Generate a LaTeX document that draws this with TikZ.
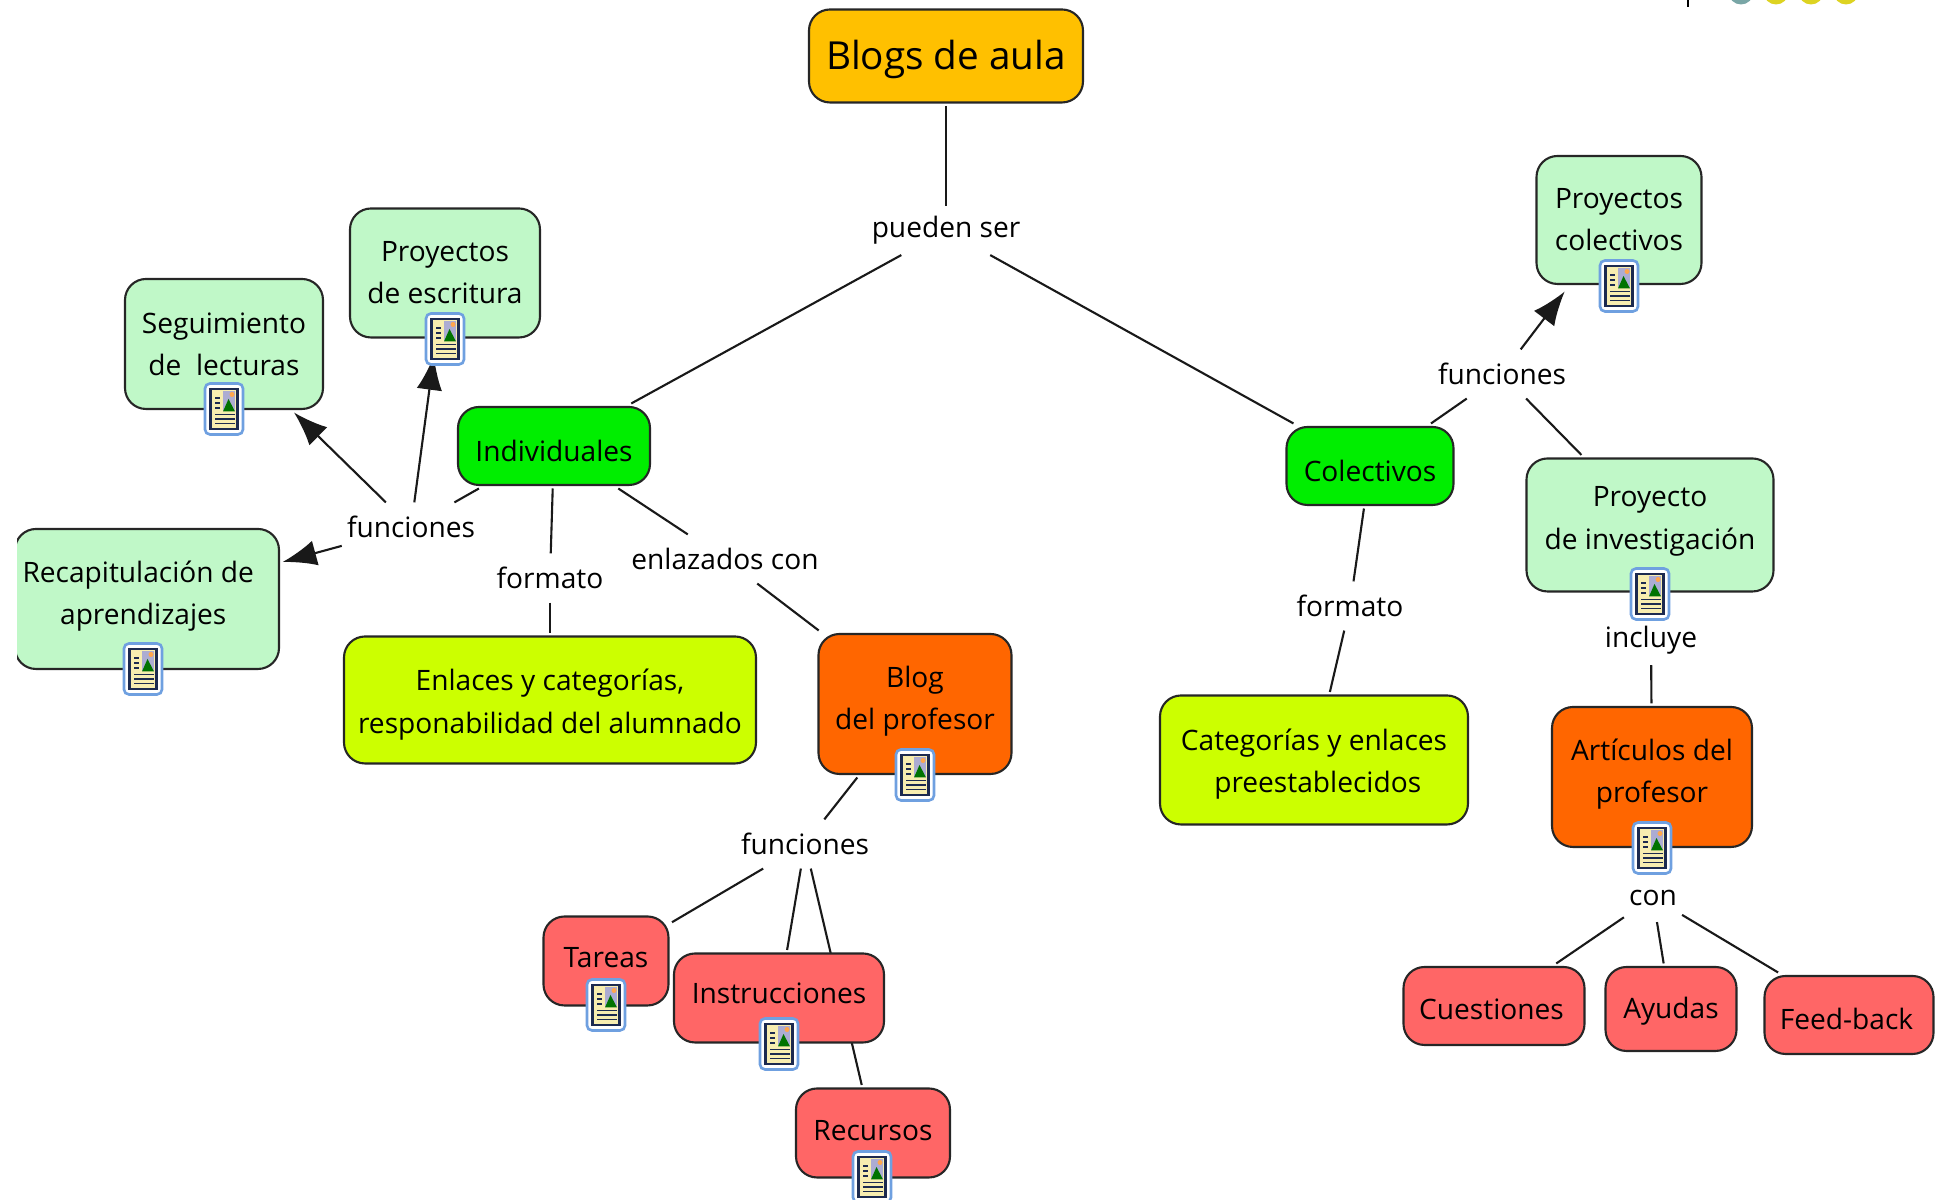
\documentclass[tikz,border=0pt]{standalone}
\usepackage{fontspec}
\setmainfont{Open Sans}
\usetikzlibrary{arrows.meta,backgrounds}

\definecolor{goldbox}{HTML}{FFC000}
\definecolor{greenbox}{HTML}{00EE00}
\definecolor{palebox}{HTML}{C0F8C8}
\definecolor{limebox}{HTML}{CCFF00}
\definecolor{orangebox}{HTML}{FF6600}
\definecolor{redbox}{HTML}{FF6666}
\definecolor{iconblue}{HTML}{6FA0E0}
\definecolor{iconnavy}{HTML}{1C2A50}
\definecolor{iconpage}{HTML}{F7EDB0}

\tikzset{
  mapbox/.style={draw=black!85, line width=1.2pt, rounded corners=0.42cm, outer sep=2pt, align=center,
    font=\fontsize{16}{24}\selectfont},
  textdown/.style={execute at begin node={\rule{0pt}{#1}}},
  textup/.style={execute at end node={\rule[-#1]{0pt}{0pt}}},
  linkword/.style={minimum height=28pt, inner xsep=3pt, inner ysep=0pt, outer sep=0pt,
    font=\fontsize{16}{24}\selectfont},
  maplink/.style={draw=black!90, line width=1.2pt},
  maparrow/.style={maplink, -{Latex[scale=2.3]}},
  iconframe/.style={draw=iconblue, fill=white, line width=1.5pt, rounded corners=0.1cm,
    minimum width=0.76cm, minimum height=1.02cm, inner sep=0pt}
}

\begin{document}
\begin{tikzpicture}
    \useasboundingbox (0,0) rectangle (38.78,24);

    % top edge
    \begin{scope}
        \clip (33,23.5) rectangle (38.78,24);
        \draw[line width=1.2pt] (33.76,24) -- (33.76,23.85);
        \fill[teal!50!gray!70] (34.82,24.16) circle (0.25);
        \fill[yellow!85!black] (35.52,24.16) circle (0.25);
        \fill[yellow!85!black] (36.22,24.16) circle (0.25);
        \fill[yellow!85!black] (36.92,24.16) circle (0.25);
    \end{scope}

    \node[mapbox, fill=goldbox, minimum width=5.48cm, minimum height=1.86cm, textdown=21pt, font=\fontsize{22}{28}\selectfont] (blogs) at (18.92,22.88) {Blogs de aula};

    \node[mapbox, fill=palebox, minimum width=3.80cm, minimum height=2.58cm] (escritura) at (8.90,18.54) {Proyectos\\de escritura};
    \node[mapbox, fill=palebox, minimum width=3.96cm, minimum height=2.60cm] (lecturas) at (4.48,17.12) {Seguimiento\\de\ \ lecturas};
    \node[mapbox, fill=palebox, minimum width=5.28cm, minimum height=2.80cm, textup=7pt] (recap) at (2.94,12.02) {Recapitulación de\hspace*{0.35cm}\\aprendizajes\hspace*{0.15cm}};
    \node[mapbox, fill=greenbox, minimum width=3.84cm, minimum height=1.56cm, textdown=17.5pt] (indiv) at (11.08,15.08) {Individuales};
    \node[mapbox, fill=limebox, minimum width=8.24cm, minimum height=2.54cm] (enlaces) at (11.00,10.00) {\rule{0pt}{17.5pt}Enlaces y categorías,\\responabilidad del alumnado};
    \node[mapbox, fill=orangebox, minimum width=3.86cm, minimum height=2.80cm, textup=7pt] (blogprof) at (18.30,9.92) {Blog\\del profesor};
    \node[mapbox, fill=greenbox, minimum width=3.34cm, minimum height=1.56cm, textdown=17.5pt] (colect) at (27.40,14.68) {Colectivos};
    \node[mapbox, fill=limebox, minimum width=6.16cm, minimum height=2.58cm] (categ) at (26.28,8.80) {\rule{0pt}{16.5pt}Categorías y enlaces\\\hspace*{0.15cm}preestablecidos};
    \node[mapbox, fill=palebox, minimum width=3.30cm, minimum height=2.56cm] (proycol) at (32.38,19.60) {Proyectos\\colectivos};
    \node[mapbox, fill=palebox, minimum width=4.94cm, minimum height=2.66cm, textup=8pt] (invest) at (33.00,13.50) {Proyecto\\de investigación};
    \node[mapbox, fill=orangebox, minimum width=4.00cm, minimum height=2.80cm, textup=7pt] (artic) at (33.04,8.46) {Artículos del\\profesor};
    \node[mapbox, fill=redbox, minimum width=2.50cm, minimum height=1.78cm, textup=4pt] (tareas) at (12.12,4.78) {Tareas};
    \node[mapbox, fill=redbox, minimum width=4.20cm, minimum height=1.78cm, textup=6pt] (instruc) at (15.58,4.04) {Instrucciones};
    \node[mapbox, fill=redbox, minimum width=3.08cm, minimum height=1.78cm, textup=3pt] (recursos) at (17.46,1.34) {Recursos};
    \node[mapbox, fill=redbox, minimum width=3.62cm, minimum height=1.56cm, textdown=15pt] (cuest) at (29.88,3.88) {Cuestiones\hspace{0.1cm}};
    \node[mapbox, fill=redbox, minimum width=2.62cm, minimum height=1.68cm, textdown=15pt] (ayudas) at (33.42,3.82) {Ayudas};
    \node[mapbox, fill=redbox, minimum width=3.38cm, minimum height=1.56cm, textdown=16.5pt] (feed) at (36.98,3.70) {Feed-back\hspace{0.1cm}};

    % left edge of the picture cuts this box
    \fill[white] (0,10) rectangle (0.33,14);

    \node[linkword] (pueden) at (18.92,19.39) {pueden ser};
    \node[linkword] (funind) at (8.22,13.46) {funciones};
    \node[linkword] (forind) at (11.00,12.44) {formato};
    \node[linkword] (enlaz) at (14.50,12.82) {enlazados con};
    \node[linkword] (funprof) at (16.10,7.12) {funciones};
    \node[linkword] (funcol) at (30.04,16.52) {funciones};
    \node[linkword] (forcol) at (27.00,11.88) {formato};
    \node[linkword] (incluye) at (33.02,11.19) {incluye};
    \node[linkword] (con) at (33.06,6.05) {con};

    % resource icons
    \foreach \iname/\ipos in {iesc/{8.90,17.22}, ilec/{4.48,15.82}, irec/{2.86,10.62}, iprof/{18.30,8.50},
        icol/{32.38,18.28}, iinv/{33.00,12.12}, iart/{33.04,7.04}, itar/{12.12,3.90}, iins/{15.58,3.12}, ires/{17.44,0.46}} {
        \node[iconframe] (\iname) at (\ipos) {};
        \begin{scope}[shift={(\ipos)}]
            \draw[fill=iconpage, draw=iconnavy, line width=1.3pt] (-0.27,-0.40) rectangle (0.27,0.40);
            \fill[blue!30!gray!50] (-0.02,-0.05) rectangle (0.22,0.36);
            \fill[green!45!black] (-0.02,-0.05) -- (0.09,0.2) -- (0.22,-0.05) -- cycle;
            \fill[orange!70!white] (0.16,0.29) circle (0.05);
            \foreach \dy in {0.22,0.12,0.02} {
                \draw[iconnavy, line width=1.1pt] (-0.18,\dy) -- (-0.09,\dy);
            }
            \foreach \dy in {-0.11,-0.20,-0.29} {
                \draw[iconnavy, line width=1pt] (-0.18,\dy) -- (0.21,\dy);
            }
        \end{scope}
    }

    \begin{scope}[on background layer]
        \draw[maplink] (blogs) -- (pueden);
        \draw[maplink] (pueden) -- (indiv);
        \draw[maplink] (pueden) -- (colect);

        \draw[maplink] (indiv) -- (funind);
        \draw[maparrow] (funind) -- (lecturas);
        \draw[maparrow, shorten >=0.3cm] (funind) -- (escritura);
        \draw[maparrow] (funind) -- (recap);
        \draw[maplink] (indiv) -- (forind);
        \draw[maplink] (forind) -- (enlaces);
        \draw[maplink] (indiv) -- (enlaz);
        \draw[maplink] (enlaz) -- (blogprof);

        \draw[maplink] (blogprof) -- (funprof);
        \draw[maplink] (funprof) -- (tareas);
        \draw[maplink] (funprof) -- (instruc);
        \draw[maplink] (funprof) -- (recursos);

        \draw[maplink] (colect) -- (funcol);
        \draw[maparrow, shorten >=0.1cm] (funcol) -- (proycol);
        \draw[maplink] (funcol) -- (invest);
        \draw[maplink] (colect) -- (forcol);
        \draw[maplink] (forcol) -- (categ);
        \draw[maplink] (invest) -- (incluye);
        \draw[maplink] (incluye) -- (artic);
        \draw[maplink] (artic) -- (con);
        \draw[maplink] (con) -- (cuest);
        \draw[maplink] (con) -- (ayudas);
        \draw[maplink] (con) -- (feed);
    \end{scope}
\end{tikzpicture}
\end{document}
